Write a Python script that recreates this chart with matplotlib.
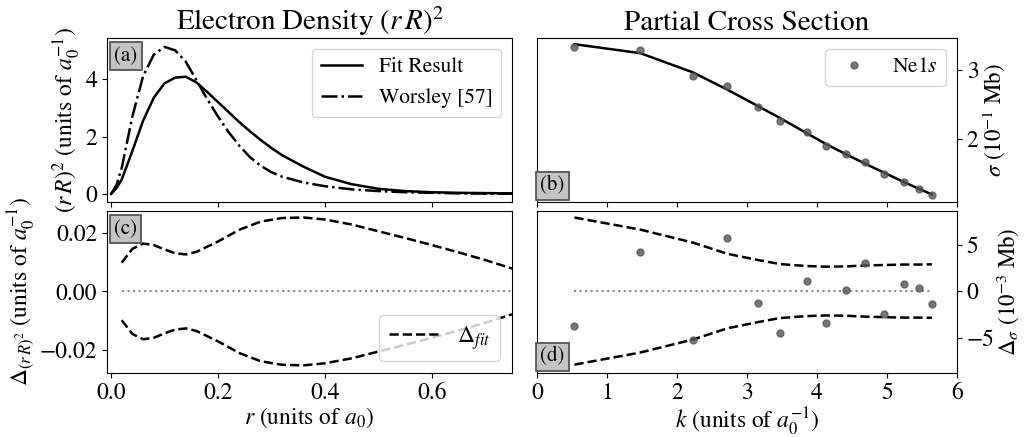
import matplotlib
matplotlib.use("Agg")
import matplotlib.pyplot as plt
import numpy as np

plt.rcParams['font.family'] = ['STIXGeneral', 'DejaVu Serif']
plt.rcParams['mathtext.fontset'] = 'stix'
plt.rcParams['font.size'] = 17

# electron density (panel a)
r_dens = [0.0, 0.01, 0.02, 0.04, 0.06, 0.08, 0.10, 0.12, 0.14, 0.16, 0.18, 0.20, 0.22,
          0.24, 0.26, 0.28, 0.30, 0.32, 0.36, 0.40, 0.45, 0.50, 0.55, 0.60, 0.65, 0.70, 0.75]
fit_dens = [0.0, 0.2, 0.5, 1.5, 2.55, 3.35, 3.85, 4.05, 4.08, 3.88, 3.55, 3.2, 2.85,
            2.5, 2.18, 1.88, 1.6, 1.35, 0.95, 0.6, 0.34, 0.18, 0.1, 0.06, 0.04, 0.03, 0.02]
worsley_dens = [0.0, 0.3, 0.9, 2.7, 4.1, 4.85, 5.12, 5.0, 4.6, 3.95, 3.3, 2.7, 2.15,
                1.68, 1.28, 0.98, 0.76, 0.6, 0.4, 0.27, 0.16, 0.1, 0.06, 0.04, 0.02, 0.01, 0.01]

# density uncertainty band (panel c)
r_err = [0.02, 0.04, 0.06, 0.08, 0.10, 0.12, 0.14, 0.16, 0.20, 0.24, 0.28, 0.32,
         0.36, 0.40, 0.45, 0.50, 0.55, 0.60, 0.65, 0.70, 0.75]
err_dens = [0.0098, 0.0145, 0.0163, 0.0158, 0.0143, 0.0130, 0.0126, 0.0135, 0.0170,
            0.0210, 0.0238, 0.0250, 0.0252, 0.0245, 0.0228, 0.0205, 0.0182, 0.0158,
            0.0133, 0.0107, 0.0078]

# cross section (panels b, d)
k = [0.535, 1.476, 2.23, 2.72, 3.16, 3.47, 3.85, 4.13, 4.42, 4.69, 4.96, 5.24, 5.46, 5.64]
sigma = [3.335, 3.28, 2.91, 2.77, 2.46, 2.25, 2.09, 1.89, 1.77, 1.665, 1.48, 1.375, 1.27, 1.18]
sigma_fit = [3.37, 3.24, 2.96, 2.71, 2.47, 2.30, 2.08, 1.92, 1.77, 1.635, 1.505, 1.37, 1.27, 1.19]
resid = [-3.76, 4.16, -5.27, 5.73, -1.32, -4.48, 1.11, -3.4, 0.11, 2.98, -2.47, 0.72, 0.29, -1.43]
err_sigma = [7.9, 6.6, 5.2, 4.0, 3.33, 2.9, 2.69, 2.62, 2.65, 2.75, 2.8, 2.85, 2.85, 2.87]

W, H = 1024, 437
fig = plt.figure(figsize=(W / 100, H / 100), dpi=100)


def box(x0, y0, x1, y1):
    return [x0 / W, 1 - y1 / H, (x1 - x0) / W, (y1 - y0) / H]


ax_a = fig.add_axes(box(107, 38, 512, 202))
ax_c = fig.add_axes(box(107, 211, 512, 373), sharex=ax_a)
ax_b = fig.add_axes(box(537, 38, 957, 202))
ax_d = fig.add_axes(box(537, 211, 957, 373), sharex=ax_b)

label_box = dict(boxstyle='square,pad=0.2', facecolor='#c4c4c4', edgecolor='#555555', lw=1.3)
dot_color = '#555555'
lw = 1.8

# (a)
ax_a.plot(r_dens, fit_dens, 'k-', lw=lw, label='Fit Result')
ax_a.plot(r_dens, worsley_dens, 'k-.', lw=lw, label='Worsley [57]')
ax_a.set_xlim(-0.0075, 0.75)
ax_a.set_ylim(-0.28, 5.43)
ax_a.set_yticks([0, 2, 4])
ax_a.set_ylabel(r'$(r\,R)^2$ (units of $a_0^{-1}$)', labelpad=2)
ax_a.set_title(r'Electron Density $(r\,R)^2$', fontsize=21)
ax_a.legend(loc='upper right', fontsize=15.5, handlelength=1.9)
ax_a.tick_params(labelbottom=False)
ax_a.text(0.018, 0.95, '(a)', transform=ax_a.transAxes, va='top', ha='left', fontsize=15, bbox=label_box)

# (c)
ax_c.plot(r_err, err_dens, 'k--', lw=lw, label=r'$\Delta_{fit}$')
ax_c.plot(r_err, [-v for v in err_dens], 'k--', lw=lw)
ax_c.plot([r_err[0], r_err[-1]], [0, 0], ls=':', color='#888888', lw=1.5)
ax_c.set_ylim(-0.0278, 0.0274)
ax_c.set_yticks([-0.02, 0.0, 0.02])
ax_c.set_xticks([0.0, 0.2, 0.4, 0.6])
ax_c.set_xlabel(r'$r$ (units of $a_0$)', labelpad=1)
ax_c.set_ylabel(r'$\Delta_{(r\,R)^2}$ (units of $a_0^{-1}$)', labelpad=2)
ax_c.legend(loc='lower right', fontsize=17, handlelength=2.1)
ax_c.text(0.018, 0.95, '(c)', transform=ax_c.transAxes, va='top', ha='left', fontsize=15, bbox=label_box)

# (b)
ax_b.plot(k, sigma_fit, 'k-', lw=lw)
ax_b.plot(k, sigma, 'o', color=dot_color, alpha=0.8, ms=5, label=r'Ne1$s$')
ax_b.set_xlim(0, 6)
ax_b.set_ylim(1.08, 3.46)
ax_b.set_yticks([2, 3])
ax_b.yaxis.tick_right()
ax_b.yaxis.set_label_position('right')
ax_b.set_ylabel(r'$\sigma$ ($10^{-1}$ Mb)', labelpad=1, fontsize=16.5)
ax_b.set_title('Partial Cross Section', fontsize=21)
ax_b.legend(loc='upper right', fontsize=15.5, handlelength=1.9)
ax_b.tick_params(labelbottom=False)
ax_b.text(0.008, 0.04, '(b)', transform=ax_b.transAxes, va='bottom', ha='left', fontsize=15, bbox=label_box)

# (d)
ax_d.plot(k, err_sigma, 'k--', lw=lw)
ax_d.plot(k, [-v for v in err_sigma], 'k--', lw=lw)
ax_d.plot([k[0], k[-1]], [0, 0], ls=':', color='#888888', lw=1.5)
ax_d.plot(k, resid, 'o', color=dot_color, alpha=0.8, ms=5)
ax_d.set_ylim(-8.8, 8.6)
ax_d.set_yticks([-5, 0, 5])
ax_d.set_xticks(range(7))
ax_d.yaxis.tick_right()
ax_d.yaxis.set_label_position('right')
ax_d.set_ylabel(r'$\Delta_\sigma$ ($10^{-3}$ Mb)', labelpad=0, fontsize=16.5)
ax_d.set_xlabel(r'$k$ (units of $a_0^{-1}$)', labelpad=1)
ax_d.text(0.008, 0.04, '(d)', transform=ax_d.transAxes, va='bottom', ha='left', fontsize=15, bbox=label_box)

fig.savefig('out.png', dpi=100)
